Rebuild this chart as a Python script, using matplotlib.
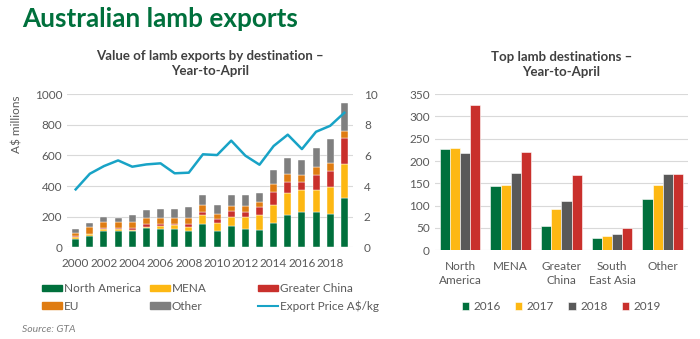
import numpy as np
import matplotlib
matplotlib.use("Agg")
import matplotlib.pyplot as plt
from matplotlib.patches import Patch
from matplotlib.lines import Line2D

plt.rcParams['font.family'] = ['Lato', 'DejaVu Sans']

# Year-to-April export values by destination, A$ millions
years = list(range(2000, 2020))
north_america = [57, 74, 104, 104, 104, 126, 122, 120, 104, 154, 109, 141, 120, 115, 157, 213, 228, 230, 217, 325]
mena = [13, 11, 16, 16, 9, 9, 17, 26, 31, 55, 52, 59, 80, 98, 119, 144, 144, 146, 174, 221]
greater_china = [6, 4, 6, 4, 11, 15, 13, 6, 15, 24, 24, 37, 33, 50, 87, 71, 55, 93, 110, 169]
eu = [20, 46, 41, 39, 43, 43, 37, 41, 39, 41, 30, 35, 39, 30, 50, 50, 45, 52, 52, 44]
other = [26, 26, 33, 30, 42, 48, 59, 55, 72, 67, 59, 67, 67, 64, 91, 102, 98, 127, 156, 180]
export_price = [3.78, 4.80, 5.30, 5.67, 5.26, 5.41, 5.48, 4.83, 4.87, 6.07, 6.02, 6.96, 5.98, 5.39,
                6.61, 7.35, 6.41, 7.54, 7.93, 8.78]

# Top destinations, last four years
dest_labels = ['North\nAmerica', 'MENA', 'Greater\nChina', 'South\nEast Asia', 'Other']
dest_years = ['2016', '2017', '2018', '2019']
dest_values = {
    '2016': [228, 144, 55, 28, 115],
    '2017': [230, 146, 93, 32, 146],
    '2018': [217, 174, 110, 36, 171],
    '2019': [325, 221, 169, 50, 170],
}

GREEN = '#00703c'
YELLOW = '#fdb813'
RED = '#c9302c'
ORANGE = '#df7c12'
GREY = '#7f7f7f'
DARK_GREY = '#595959'
TEAL = '#18a3c6'
TXT = '#595959'
GRID = '#d9d9d9'

fig = plt.figure(figsize=(7, 3.39), dpi=100)
fig.text(0.032, 0.945, 'Australian lamb exports', color='#00703c', fontsize=18.8,
         fontweight='bold', va='center', ha='left')


def style_axis(ax):
    for s in ax.spines.values():
        s.set_visible(False)
    ax.grid(axis='y', color=GRID, linewidth=0.8)
    ax.set_axisbelow(True)
    ax.tick_params(length=0, colors=TXT, labelsize=8.5)


# ---- left: stacked bars with price line ----
ax1 = fig.add_axes([0.096, 0.2705, 0.408, 0.452])
style_axis(ax1)
x = np.arange(len(years))
series = [(north_america, GREEN), (mena, YELLOW), (greater_china, RED), (eu, ORANGE), (other, GREY)]
bottom = np.zeros(len(years))
for vals, col in series:
    ax1.bar(x, vals, 0.5, bottom=bottom, color=col, edgecolor='white', linewidth=0.3)
    bottom += np.array(vals)
ax1.set_xlim(-0.6, len(years) - 0.4)
ax1.set_ylim(0, 1000)
ax1.set_yticks(range(0, 1001, 200))
ax1.set_xticks(x[::2])
ax1.set_xticklabels([str(y) for y in years[::2]])
ax1.tick_params(axis='x', pad=8)
ax1.set_ylabel('A$ millions', color=TXT, fontsize=8.5)
ax1.yaxis.set_label_coords(-0.155, 0.8)
ax1.set_title('Value of lamb exports by destination –\nYear-to-April', fontsize=9.5,
              fontweight='bold', color='#404040', pad=14, linespacing=1.3)

ax1b = ax1.twinx()
for s in ax1b.spines.values():
    s.set_visible(False)
ax1b.plot(x, export_price, color=TEAL, linewidth=1.8)
ax1b.set_ylim(0, 10)
ax1b.set_yticks(range(0, 11, 2))
ax1b.tick_params(length=0, colors=TXT, labelsize=8.5, pad=8)

# legend in three fixed-width columns
legend_cols = [
    ([Patch(color=GREEN), Patch(color=ORANGE)], ['North America', 'EU']),
    ([Patch(color=YELLOW), Patch(color=GREY)], ['MENA', 'Other']),
    ([Patch(color=RED), Line2D([], [], color=TEAL, linewidth=1.5)], ['Greater China', 'Export Price A$/kg']),
]
for i, (hs, ls) in enumerate(legend_cols):
    leg = fig.legend(hs, ls, loc='upper left', bbox_to_anchor=(0.06 + i * 0.1543, 0.165),
                     frameon=False, fontsize=8.5, handlelength=1.7, handleheight=0.45,
                     handletextpad=0.15, labelspacing=0.55, borderpad=0, borderaxespad=0)
    for t in leg.get_texts():
        t.set_color(TXT)

fig.text(0.032, 0.027, 'Source: GTA', fontsize=7.5, style='italic', color='#7f7f7f',
         va='center')

# ---- right: grouped bars ----
ax2 = fig.add_axes([0.621, 0.2625, 0.362, 0.4595])
style_axis(ax2)
xc = np.arange(len(dest_labels))
colors = [GREEN, YELLOW, DARK_GREY, RED]
w = 0.2
for i, (yr, col) in enumerate(zip(dest_years, colors)):
    ax2.bar(xc + (i - 1.5) * w, dest_values[yr], w, color=col, edgecolor='white',
            linewidth=0.4, label=yr)
ax2.set_xlim(-0.5, len(dest_labels) - 0.5)
ax2.set_ylim(0, 350)
ax2.set_yticks(range(0, 351, 50))
ax2.set_xticks(xc)
ax2.set_xticklabels(dest_labels, linespacing=1.35)
ax2.tick_params(axis='x', pad=8)
ax2.set_title('Top lamb destinations –\nYear-to-April', fontsize=9.5,
              fontweight='bold', color='#404040', pad=13, linespacing=1.3)
leg2 = ax2.legend(ncol=4, loc='upper center', bbox_to_anchor=(0.5, -0.29), frameon=False,
                  fontsize=8.5, handlelength=0.6, handleheight=0.6, handletextpad=0.4,
                  columnspacing=1.2, borderpad=0)
for t in leg2.get_texts():
    t.set_color(TXT)

fig.savefig('out.png', dpi=100)
